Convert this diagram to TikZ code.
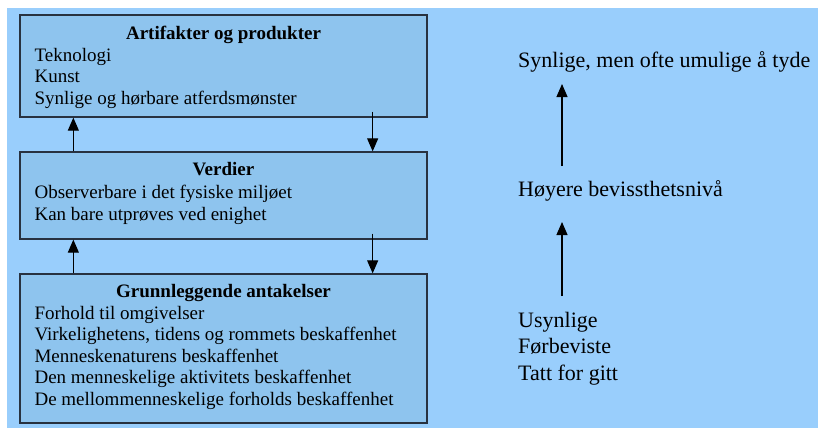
\documentclass[tikz,border=0pt]{standalone}
\usepackage{fontspec}
\setmainfont{Liberation Serif}
\usetikzlibrary{arrows.meta,positioning}

\definecolor{skyblue}{RGB}{153,206,252}
\definecolor{layerblue}{RGB}{142,196,238}
\definecolor{edgegrey}{RGB}{40,50,64}

\begin{document}
\begin{tikzpicture}[
  x=1pt, y=1pt,
  layer/.style={draw=edgegrey, line width=1.3pt, fill=layerblue, minimum width=407pt, inner sep=0pt},
  title/.style={font=\fontsize{19}{21.5}\selectfont\bfseries, inner sep=0pt, anchor=base},
  items/.style={font=\fontsize{19}{21.5}\selectfont, align=left, inner sep=0pt, anchor=base west, xshift=15pt},
  level/.style={font=\fontsize{22}{26.5}\selectfont, align=left, inner sep=0pt, anchor=base west},
  arrow/.style={-{Triangle[length=13pt,width=11pt]}, line width=1.1pt}
]
\useasboundingbox (0,0) rectangle (818,-432);
\fill[skyblue] (7,-8) rectangle (818,-428);

% three layers
\node[layer, minimum height=102pt] (art) at (223.5,-66) {};
\node[layer, minimum height=87pt] (val) at (223.5,-195.5) {};
\node[layer, minimum height=149pt] (base) at (223.5,-348.5) {};

\node[title] (artT) at ([yshift=-25pt]art.north) {Artifakter og produkter};
\node[items, yshift=-65pt] (artL) at (artT.base -| art.west) {Teknologi\\Kunst\\Synlige og hørbare atferdsmønster};

\node[title] (valT) at ([yshift=-24pt]val.north) {Verdier};
\node[items, yshift=-45pt] (valL) at (valT.base -| val.west) {Observerbare i det fysiske miljøet\\Kan bare utprøves ved enighet};

\node[title] (baseT) at ([yshift=-24pt]base.north) {Grunnleggende antakelser};
\node[items, yshift=-108pt] (baseL) at (baseT.base -| base.west) {Forhold til omgivelser\\Virkelighetens, tidens og rommets beskaffenhet\\Menneskenaturens beskaffenhet\\Den menneskelige aktivitets beskaffenhet\\De mellommenneskelige forholds beskaffenhet};

\draw[arrow] ([xshift=54pt]val.north west) -- ([xshift=54pt]art.south west);
\draw[arrow] ([xshift=54pt]base.north west) -- ([xshift=54pt]val.south west);
\draw[arrow] ([xshift=-55pt,yshift=6pt]art.south east) -- ([xshift=-55pt]val.north east);
\draw[arrow] ([xshift=-55pt,yshift=6pt]val.south east) -- ([xshift=-55pt]base.north east);

% levels of awareness
\node[level] (seen) at (518,-67) {Synlige, men ofte umulige å tyde};
\node[level] (aware) at (518,-196) {Høyere bevissthetsnivå};
\node[level] (hidden) at (518,-380) {Usynlige\\Førbeviste\\Tatt for gitt};

\draw[arrow] ([xshift=44pt,yshift=30pt]aware.base west) -- ([xshift=44pt,yshift=-17pt]seen.base west);
\draw[arrow] ([xshift=44pt,yshift=84pt]hidden.base west) -- ([xshift=44pt,yshift=-26pt]aware.base west);
\end{tikzpicture}
\end{document}
